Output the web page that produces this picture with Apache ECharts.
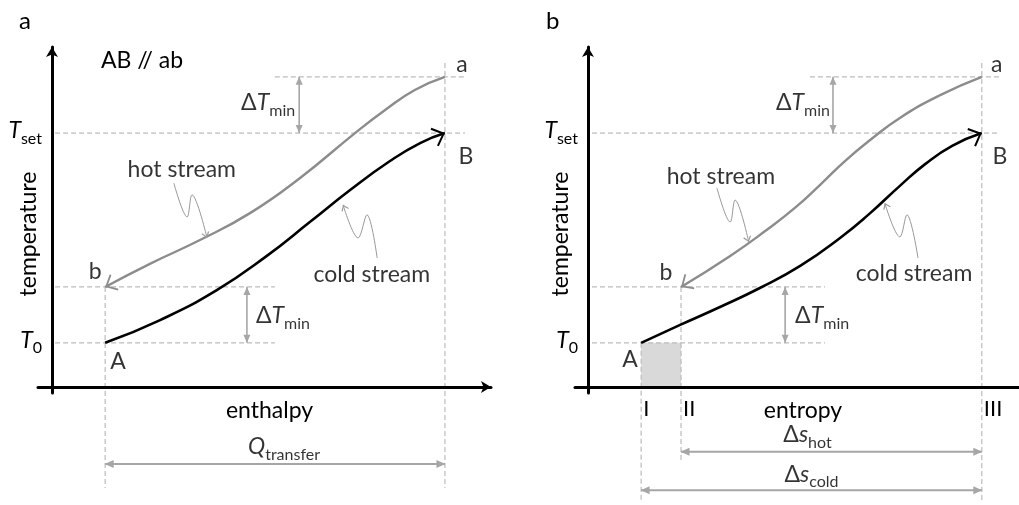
<!DOCTYPE html>
<html><head><meta charset="utf-8">
<script src="https://cdn.jsdelivr.net/npm/echarts@6/dist/echarts.min.js"></script>
<style>html,body{margin:0;padding:0;background:#fff}#main{width:1019px;height:505px}</style>
</head><body><div id="main"></div>
<script>
// ---------- DATA (axis units 0..100) ----------
const T_0 = 12.8, T_b = 29.0, T_set = 73.6, T_a = 89.9;
// panel a: temperature vs enthalpy
const enthHotX  = [88.7, 81.9, 75.2, 68.4, 56.0, 44.7, 33.4, 22.1, 12.0];
const enthHotT  = [89.9, 86.1, 80.3, 73.6, 60.6, 50.4, 42.6, 35.7, 29.0];
const enthColdX = [12.0, 24.4, 37.2, 48.5, 58.2, 67.3, 76.3, 83.1, 88.7];
const enthColdT = [12.8, 19.4, 28.1, 38.0, 47.8, 57.1, 65.5, 70.7, 73.6];
// panel b: temperature vs entropy
const entrHotX  = [88.9, 79.5, 70.4, 63.7, 58.0, 52.4, 46.7, 40.0, 32.1, 21.0];
const entrHotT  = [89.9, 84.6, 78.0, 71.6, 65.5, 58.6, 51.9, 45.2, 38.0, 29.0];
const entrColdX = [12.0, 20.8, 29.8, 38.8, 47.9, 56.9, 63.7, 70.4, 76.1, 82.2, 88.9];
const entrColdT = [12.8, 18.0, 23.2, 28.7, 35.1, 43.2, 50.4, 58.3, 64.6, 69.9, 73.6];
// pointer squiggles (label -> curve)
const ptrHotA_X  = [27.5, 30.5, 31.6, 35.0], ptrHotA_T  = [59.1, 49.3, 55.7, 43.2];
const ptrColdA_X = [73.4, 71.1, 69.1, 65.7], ptrColdA_T = [37.4, 49.9, 43.2, 52.8];
const ptrHotB_X  = [29.1, 32.1, 33.2, 36.3], ptrHotB_T  = [57.7, 47.8, 54.2, 42.0];
const ptrColdB_X = [74.5, 72.0, 70.4, 67.0], ptrColdB_T = [37.4, 49.9, 43.5, 53.3];
// tick labels
const yTickLabels = ['T0', 'Tset'];
const entropyTickLabels = ['I', 'II', 'III'];

// ---------- LAYOUT / STYLE ----------
const FONT = 'Lato';
const FS = 23;
const BLACK = '#000', HOT = '#8c8c8c', ARW = '#a6a6a6', DASH = '#bcbcbc';
const CHEV = 'path://M10,0 L20,10.6 L18.5,12 L10,2.9 L1.5,12 L0,10.6 Z';
const CHEV_S = 'path://M4,0 L8,5.2 L7.1,6 L4,1.7 L0.9,6 L0,5.2 Z';
const RICH = {
  n: {fontFamily: FONT, fontSize: FS, color: BLACK, verticalAlign: 'bottom', padding: [0,0,4,0]},
  i: {fontFamily: FONT, fontSize: FS, color: BLACK, fontStyle: 'italic', verticalAlign: 'bottom', padding: [0,0,4,0]},
  s: {fontFamily: FONT, fontSize: 16, color: BLACK, verticalAlign: 'bottom'}
};
function richT(lbl) {
  if (lbl === 'T0') return '{i|T}{s|0}';
  if (lbl === 'Tset') return '{i|T}{s|set}';
  return lbl;
}
const zip = (xs, ys) => xs.map((x, k) => [x, ys[k]]);

function axisPair(g, isB) {
  const entVals = [entrColdX[0], entrHotX[entrHotX.length-1], entrColdX[entrColdX.length-1]];
  const xA = {
    gridIndex: g, type: 'value', min: isB ? -2.93 : -3.16, max: isB ? 100 : 99.1,
    z: 5,
    name: isB ? 'entropy' : 'enthalpy', nameLocation: 'middle', nameGap: 6, nameMoveOverlap: false,
    nameTextStyle: {fontFamily: FONT, fontSize: FS, color: BLACK, padding: isB ? [0,0,0,0] : [0,0,0,10]},
    axisLine: {show: true, onZero: true, symbol: isB ? ['none','none'] : ['none','arrow'], symbolSize: [9, 10],
      lineStyle: {color: BLACK, width: 3}},
    axisTick: {show: false}, splitLine: {show: false},
    axisLabel: isB ? {show: true, customValues: entVals,
      formatter: (v) => entropyTickLabels[entVals.indexOf(v)] || '',
      align: 'left', padding: [0,0,0,2], margin: 5, fontFamily: FONT, fontSize: 22, color: BLACK} : {show: false}
  };
  const yA = {
    gridIndex: g, type: 'value', min: -1.74, max: 98.55, z: 5,
    name: 'temperature', nameLocation: 'middle', nameGap: isB ? 3 : -2, nameMoveOverlap: false,
    nameTextStyle: {fontFamily: FONT, fontSize: FS, color: BLACK, padding: [0, 28, 0, 0]},
    axisLine: {show: true, onZero: true, symbol: ['none','arrow'], symbolSize: [9, 10],
      lineStyle: {color: BLACK, width: 3}},
    axisTick: {show: false}, splitLine: {show: false},
    axisLabel: {show: true, customValues: [T_0, T_set], margin: isB ? -3 : -4,
      formatter: (v) => richT(v === T_0 ? yTickLabels[0] : yTickLabels[1]), rich: RICH}
  };
  return [xA, yA];
}

function seg(g, pts, color, width, dashed, heads) {
  const data = pts.map(p => ({value: p}));
  (heads || []).forEach(h => {
    Object.assign(data[h.i], {symbol: h.symbol, symbolSize: h.size, symbolRotate: h.rotate || 0,
      symbolOffset: h.offset || [0,0]});
  });
  return {type: 'line', xAxisIndex: g, yAxisIndex: g, data, symbol: 'none', showSymbol: true,
    clip: false, silent: true, animation: false, z: dashed ? 1 : 3,
    lineStyle: {color, width, type: dashed ? [5, 3] : 'solid'},
    itemStyle: {color, borderWidth: 0}};
}
function dblH(g, y, x1, x2) {
  return seg(g, [[x1, y], [x2, y]], ARW, 2, false, [
    {i: 0, symbol: 'triangle', size: [8, 9], rotate: 90, offset: [4, 0]},
    {i: 1, symbol: 'triangle', size: [8, 9], rotate: -90, offset: [-4, 0]}]);
}
function dblV(g, x, yTop, yBot) {
  return seg(g, [[x, yTop], [x, yBot]], ARW, 1.6, false, [
    {i: 0, symbol: 'triangle', size: [7, 8], rotate: 0, offset: [0, 4]},
    {i: 1, symbol: 'triangle', size: [7, 8], rotate: 180, offset: [0, -4]}]);
}
function curve(g, xs, ys, color, width, smooth, head, headSize) {
  return {type: 'line', xAxisIndex: g, yAxisIndex: g, data: zip(xs, ys).map(p => ({value: p})),
    smooth, symbol: 'none', showSymbol: true, clip: false, silent: true, animation: false, z: 4,
    lineStyle: {color, width}, itemStyle: {color, borderWidth: 0}, _head: head, _headSize: headSize};
}
function textItem(x, y, txt, align, off) {
  return {value: [x, y], label: {formatter: txt, align: align || 'center', verticalAlign: 'middle', offset: off || [0,0]}};
}
function textSeries(g, items) {
  return {type: 'scatter', xAxisIndex: g, yAxisIndex: g, symbol: 'circle', symbolSize: 1, clip: false,
    silent: true, animation: false, z: 6, itemStyle: {color: 'rgba(0,0,0,0)'},
    label: {show: true, position: 'inside', fontFamily: FONT, fontSize: FS, color: BLACK, rich: RICH},
    data: items};
}

const series = [];
// ---- panel a guides ----
const xA_a = enthColdX[0], xB_a = enthColdX[enthColdX.length-1];
series.push(seg(0, [[50.3, T_a], [93.2, T_a]], DASH, 1.2, true));
series.push(seg(0, [[0.7, T_set], [93.2, T_set]], DASH, 1.2, true));
series.push(seg(0, [[0.7, T_b], [50.3, T_b]], DASH, 1.2, true));
series.push(seg(0, [[0.7, T_0], [50.3, T_0]], DASH, 1.2, true));
series.push(seg(0, [[xA_a, T_b], [xA_a, -29.3]], DASH, 1.2, true));
series.push(seg(0, [[xB_a, 93.9], [xB_a, -29.3]], DASH, 1.2, true));
series.push(dblV(0, 55.8, T_a, T_set));
series.push(dblV(0, 44.0, T_b, T_0));
series.push(dblH(0, -22.3, xA_a, xB_a));
// ---- panel b guides ----
const xA_b = entrColdX[0], xb_b = entrHotX[entrHotX.length-1], xB_b = entrColdX[entrColdX.length-1];
series.push(seg(1, [[50.1, T_a], [93.0, T_a]], DASH, 1.2, true));
series.push(seg(1, [[0.9, T_set], [93.0, T_set]], DASH, 1.2, true));
series.push(seg(1, [[0.9, T_b], [53.5, T_b]], DASH, 1.2, true));
series.push(seg(1, [[0.9, T_0], [53.5, T_0]], DASH, 1.2, true));
series.push(seg(1, [[xA_b, T_0], [xA_b, -33.3]], DASH, 1.2, true));
series.push(seg(1, [[xb_b, T_b], [xb_b, -21.7]], DASH, 1.2, true));
series.push(seg(1, [[xB_b, 93.9], [xB_b, -33.3]], DASH, 1.2, true));
series.push(dblV(1, 55.3, T_a, T_set));
series.push(dblV(1, 44.5, T_b, T_0));
series.push(dblH(1, -18.8, xb_b, xB_b));
series.push(dblH(1, -29.9, xA_b, xB_b));
// gray area under A between I and II
series.push({type: 'line', xAxisIndex: 1, yAxisIndex: 1, data: [], silent: true, animation: false,
  markArea: {silent: true, itemStyle: {color: '#d9d9d9'}, data: [[{coord: [xA_b, 0]}, {coord: [xb_b, T_0]}]]}});
// ---- curves ----
series.push(curve(0, enthHotX, enthHotT, HOT, 2.4, 0.5, CHEV, [18, 11]));
series.push(curve(0, enthColdX, enthColdT, BLACK, 2.6, 0.5, CHEV, [20, 12]));
series.push(curve(1, entrHotX, entrHotT, HOT, 2.4, 0.5, CHEV, [18, 11]));
series.push(curve(1, entrColdX, entrColdT, BLACK, 2.6, 0.5, CHEV, [20, 12]));
series.push(curve(0, ptrHotA_X, ptrHotA_T, '#999', 1, 0.35, CHEV_S, [8, 6]));
series.push(curve(0, ptrColdA_X, ptrColdA_T, '#999', 1, 0.35, CHEV_S, [8, 6]));
series.push(curve(1, ptrHotB_X, ptrHotB_T, '#999', 1, 0.35, CHEV_S, [8, 6]));
series.push(curve(1, ptrColdB_X, ptrColdB_T, '#999', 1, 0.35, CHEV_S, [8, 6]));
// ---- text ----
const dTmin = '{n|Δ}{i|T}{s|min}';
series.push(textSeries(0, [
  textItem(xB_a, T_a, 'a', 'center', [17, -12]),
  textItem(xB_a, T_set, 'B', 'center', [21, 24]),
  textItem(xA_a, T_b, 'b', 'center', [-10, -15]),
  textItem(xA_a, T_0, 'A', 'center', [13, 19]),
  textItem(29.3, 62.9, 'hot stream'),
  textItem(72.2, 32.5, 'cold stream'),
  textItem(55.8, (T_a + T_set) / 2, dTmin, 'right', [-4, 0]),
  textItem(44.0, (T_b + T_0) / 2, dTmin, 'left', [9, 3]),
  textItem((xA_a + xB_a) / 2, -22.3, '{i|Q}{s|transfer}', 'center', [9, -15])
]));
series.push(textSeries(1, [
  textItem(xB_b, T_a, 'a', 'center', [15, -12]),
  textItem(xB_b, T_set, 'B', 'center', [18, 24]),
  textItem(xb_b, T_b, 'b', 'center', [-15, -14]),
  textItem(xA_b, T_0, 'A', 'center', [-11, 17]),
  textItem(30.0, 60.9, 'hot stream'),
  textItem(73.6, 32.8, 'cold stream'),
  textItem(55.3, (T_a + T_set) / 2, dTmin, 'right', [-3, 0]),
  textItem(44.5, (T_b + T_0) / 2, dTmin, 'left', [10, 3]),
  textItem((xA_b + xB_b) / 2, -18.8, '{n|Δ}{i|s}{s|hot}', 'center', [-4, -15]),
  textItem((xA_b + xB_b) / 2, -29.9, '{n|Δ}{i|s}{s|cold}', 'center', [0, -14])
]));

const [xa0, ya0] = axisPair(0, false);
const [xa1, ya1] = axisPair(1, true);
const option = {
  backgroundColor: '#fff',
  animation: false,
  title: [
    {text: 'a', left: 14, top: 4, textStyle: {fontFamily: FONT, fontSize: 24, fontWeight: 'normal', color: BLACK}},
    {text: 'AB // ab', left: 96, top: 44, textStyle: {fontFamily: FONT, fontSize: FS, fontWeight: 'normal', color: BLACK}},
    {text: 'b', left: 541, top: 4, textStyle: {fontFamily: FONT, fontSize: 24, fontWeight: 'normal', color: BLACK}}
  ],
  grid: [
    {left: 38, top: 47, width: 453, height: 346, containLabel: false, outerBoundsMode: 'none'},
    {left: 575, top: 47, width: 456, height: 346, containLabel: false, outerBoundsMode: 'none'}
  ],
  xAxis: [xa0, xa1],
  yAxis: [ya0, ya1],
  series
};

const chart = echarts.init(document.getElementById('main'), null, {renderer: 'canvas'});
chart.setOption(option);
// arrowheads aligned with the end direction of each curve
series.forEach(s => {
  if (!s._head) return;
  const d = s.data, n = d.length, g = s.xAxisIndex;
  const p1 = chart.convertToPixel({gridIndex: g}, d[n-2].value);
  const p2 = chart.convertToPixel({gridIndex: g}, d[n-1].value);
  const dx = p2[0] - p1[0], dy = p2[1] - p1[1], L = Math.hypot(dx, dy);
  const ux = dx / L, uy = dy / L;
  const rot = Math.atan2(-dy, dx) * 180 / Math.PI - 90;
  const h = s._headSize[1];
  Object.assign(d[n-1], {symbol: s._head, symbolSize: s._headSize, symbolRotate: rot,
    symbolOffset: [-ux * h / 2, -uy * h / 2]});
});
chart.setOption({series});
</script></body></html>
